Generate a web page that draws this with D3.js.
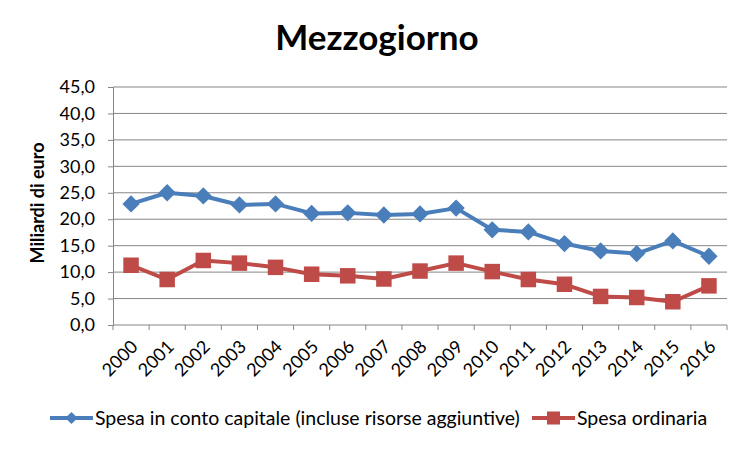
<!DOCTYPE html>
<html>
<head>
<meta charset="utf-8">
<script src="https://cdn.jsdelivr.net/npm/d3@7"></script>
<style>
  body { margin: 0; background: #fff; }
  svg { font-family: Lato, "Open Sans", sans-serif; }
</style>
</head>
<body>
<div id="chart"></div>
<script>
const years = ["2000", "2001", "2002", "2003", "2004", "2005", "2006", "2007", "2008",
    "2009", "2010", "2011", "2012", "2013", "2014", "2015", "2016"];
const capitale = [22.9, 25.0, 24.4, 22.7, 22.9, 21.1, 21.2, 20.8, 21.0, 22.1, 18.0, 17.6, 15.4, 14.0, 13.5, 15.9, 13.0];
const ordinaria = [11.3, 8.6, 12.2, 11.7, 10.9, 9.6, 9.3, 8.7, 10.2, 11.7, 10.1, 8.6, 7.7, 5.4, 5.2, 4.4, 7.4];
const yTicks = [0, 5, 10, 15, 20, 25, 30, 35, 40, 45];
const seriesNames = ["Spesa in conto capitale (incluse risorse aggiuntive)", "Spesa ordinaria"];

const width = 750, height = 450;
const plotLeft = 113, plotRight = 727, plotTop = 87, plotBottom = 325;
const gridColor = "#868686";
const blue = "#4A7EBB", red = "#BE4B48";

const svg = d3.select("#chart").append("svg")
    .attr("width", width)
    .attr("height", height);

const x = d3.scaleBand().domain(years).range([plotLeft, plotRight]);
const y = d3.scaleLinear().domain([0, 45]).range([plotBottom, plotTop]);
const fmt = d => d3.format(".1f")(d).replace(".", ",");

// title
svg.append("text")
    .attr("x", 377).attr("y", 50)
    .attr("text-anchor", "middle")
    .attr("font-size", 35).attr("font-weight", "bold")
    .text("Mezzogiorno");

// gridlines
svg.append("g")
    .selectAll("line")
    .data(yTicks.filter(d => d > 0))
    .enter().append("line")
    .attr("x1", plotLeft).attr("x2", plotRight)
    .attr("y1", d => y(d)).attr("y2", d => y(d))
    .attr("stroke", gridColor).attr("stroke-width", 1);

// y axis
const yAxis = svg.append("g")
    .attr("transform", `translate(${plotLeft},0)`)
    .call(d3.axisLeft(y).tickValues(yTicks).tickFormat(fmt).tickSize(5).tickPadding(13));
yAxis.select(".domain").attr("stroke", gridColor);
yAxis.selectAll(".tick line").attr("stroke", gridColor);
yAxis.selectAll("text").attr("font-size", 18).attr("fill", "#000")
    .attr("font-family", "Lato, 'Open Sans', sans-serif");

svg.append("text")
    .attr("transform", `translate(44,${(plotTop + plotBottom) / 2 - 3}) rotate(-90)`)
    .attr("text-anchor", "middle")
    .attr("font-size", 18).attr("font-weight", "bold")
    .text("Miliardi di euro");

// x axis
const xAxis = svg.append("g").attr("transform", `translate(0,${plotBottom})`);
xAxis.append("line")
    .attr("x1", plotLeft).attr("x2", plotRight)
    .attr("stroke", gridColor);
xAxis.selectAll("line.tk")
    .data(years.concat(["end"]))
    .enter().append("line")
    .attr("class", "tk")
    .attr("x1", (d, i) => plotLeft + i * x.step())
    .attr("x2", (d, i) => plotLeft + i * x.step())
    .attr("y1", 0).attr("y2", 5)
    .attr("stroke", gridColor);
xAxis.selectAll("text")
    .data(years)
    .enter().append("text")
    .attr("transform", d => `translate(${x(d) + x.bandwidth() / 2 - 1},${14}) rotate(-45)`)
    .attr("text-anchor", "end")
    .attr("dy", "0.7em")
    .attr("font-size", 18)
    .text(d => d);

// lines
const line = d3.line()
    .x((d, i) => x(years[i]) + x.bandwidth() / 2)
    .y(d => y(d));

function drawSeries(values, color, diamond, size) {
    svg.append("path")
        .datum(values)
        .attr("d", line)
        .attr("fill", "none")
        .attr("stroke", color)
        .attr("stroke-width", 4)
        .attr("stroke-linejoin", "round");
    svg.append("g")
        .selectAll("path")
        .data(values)
        .enter().append("path")
        .attr("transform", (d, i) => `translate(${x(years[i]) + x.bandwidth() / 2},${y(d)})` +
            (diamond ? " rotate(45)" : ""))
        .attr("d", d3.symbol().type(d3.symbolSquare).size(size))
        .attr("fill", color);
}

drawSeries(capitale, blue, true, 150);
drawSeries(ordinaria, red, false, 240);

// legend
const legend = svg.append("g").attr("transform", "translate(0,418)");
const legendItems = [
    { name: seriesNames[0], color: blue, x0: 50, diamond: true },
    { name: seriesNames[1], color: red, x0: 532, diamond: false }
];
legendItems.forEach(it => {
    legend.append("line")
        .attr("x1", it.x0).attr("x2", it.x0 + 43)
        .attr("stroke", it.color).attr("stroke-width", 4);
    legend.append("path")
        .attr("transform", `translate(${it.x0 + 21.5},0)` + (it.diamond ? " rotate(45)" : ""))
        .attr("d", d3.symbol().type(d3.symbolSquare).size(it.diamond ? 75 : 170))
        .attr("fill", it.color);
    legend.append("text")
        .attr("x", it.x0 + 45).attr("y", 0)
        .attr("dy", "0.35em")
        .attr("font-size", 19.5)
        .text(it.name);
});
</script>
</body>
</html>
